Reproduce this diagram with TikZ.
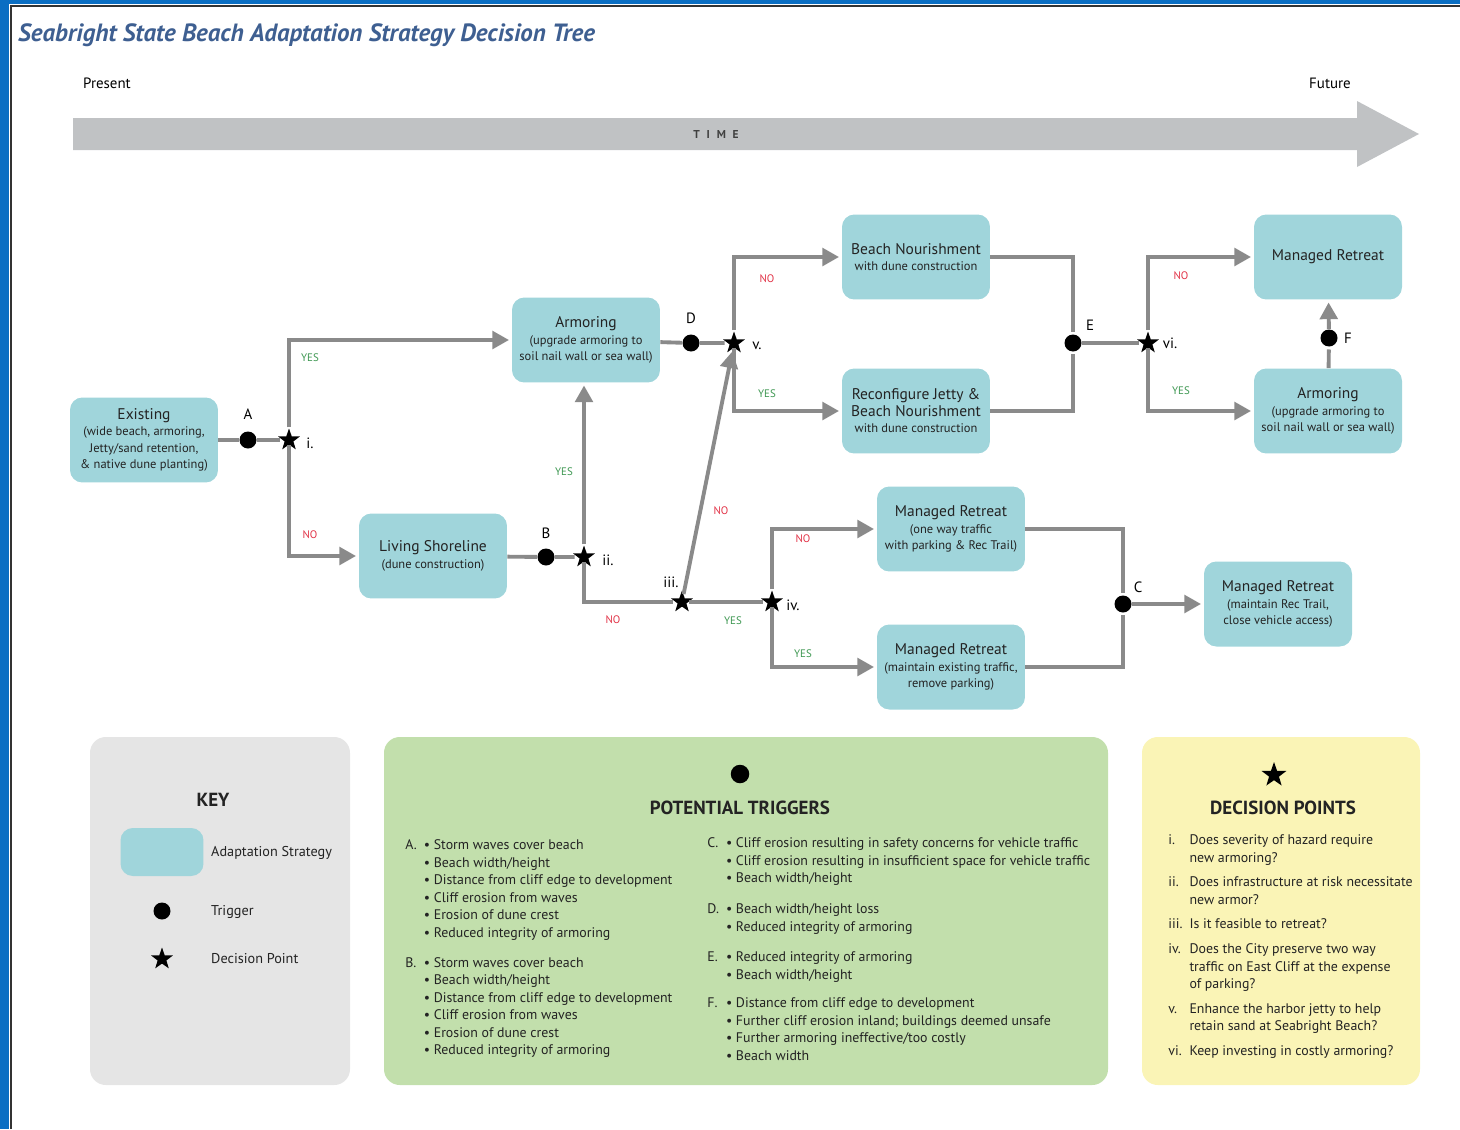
\documentclass[tikz,border=0pt]{standalone}
\usepackage{fontspec}
\setmainfont{PT Sans}
\usetikzlibrary{arrows.meta,shapes.geometric}

\definecolor{stratfill}{RGB}{160,213,219}
\definecolor{linegrey}{RGB}{138,138,138}
\definecolor{timegrey}{RGB}{192,194,196}
\definecolor{yesgreen}{RGB}{60,150,80}
\definecolor{nored}{RGB}{225,50,70}
\definecolor{titleblue}{RGB}{62,95,145}
\definecolor{frameblue}{RGB}{10,110,195}
\definecolor{keygrey}{RGB}{229,229,229}
\definecolor{trigreen}{RGB}{194,223,172}
\definecolor{decyellow}{RGB}{250,244,182}
\definecolor{textdark}{RGB}{35,35,35}

\newcommand\subsize{\fontsize{7.1}{9.4}\selectfont}
\newcommand\headsize{\fontsize{8.8}{9.4}\selectfont}
\newcommand\listsize{\fontsize{7.9}{10}\selectfont}

\tikzset{%
  >={Triangle[width=10pt,length=9.5pt]},
  % Specifications for style of nodes:
        strategy/.style = {rectangle, rounded corners=7pt, fill=stratfill,
                           minimum width=2.96cm, minimum height=1.7cm,
                           align=center, text=textdark, font=\subsize},
         trigger/.style = {circle, fill=black, minimum size=0.34cm,
                           inner sep=0pt},
        decision/.style = {star, star points=5, star point ratio=2.5,
                           fill=black, minimum size=0.46cm, inner sep=0pt},
          letter/.style = {font=\fontsize{8.5}{10}\selectfont, text=black},
             yes/.style = {font=\fontsize{6.2}{7}\selectfont, text=yesgreen},
              no/.style = {font=\fontsize{6.2}{7}\selectfont, text=nored},
            flow/.style = {draw=linegrey, line width=2.2pt, shorten >=1.5pt},
         heading/.style = {font=\fontsize{10.8}{12}\selectfont\bfseries,
                           text=textdark},
         keytext/.style = {anchor=west, font=\fontsize{8.1}{10}\selectfont,
                           text=textdark},
        listtext/.style = {anchor=north west, inner sep=0pt, text=textdark,
                           font=\listsize},
}

\begin{document}
\begin{tikzpicture}[x=0.02cm, y=-0.02cm]
  \useasboundingbox (0,0) rectangle (1460,1129);
  % frame
  \fill[frameblue] (0,0) rectangle (9,1129);
  \fill[frameblue] (0,0) rectangle (1460,4);
  \draw[black!80, line width=0.8pt] (11,1129) -- (11,6) -- (1460,6);

  % title and time line
  \node (title) [anchor=west, text=titleblue,
    font=\fontsize{14.2}{16}\selectfont\bfseries\itshape] at (12,35)
    {Seabright State Beach Adaptation Strategy Decision Tree};
  \fill[timegrey] (73,118) -- (1357,118) -- (1357,101) -- (1419,134)
    -- (1357,167) -- (1357,150) -- (73,150) -- cycle;
  \node (present) [font=\fontsize{8.5}{10}\selectfont] at (107,83) {Present};
  \node (future)  [font=\fontsize{8.5}{10}\selectfont] at (1330,83) {Future};
  \node (time) [text=black!75, font=\fontsize{6.5}{8}\selectfont\bfseries\addfontfeatures{LetterSpace=60}]
    at (716,135) {TIME};

  % Specification of strategy boxes
  \node (ex)   [strategy] at (144,440) {{\headsize Existing}\\(wide beach, armoring,\\Jetty/sand retention,\\\& native dune planting)};
  \node (arm)  [strategy] at (586,340) {{\headsize Armoring}\\(upgrade armoring to\\soil nail wall or sea wall)};
  \node (ls)   [strategy] at (433,556) {{\headsize Living Shoreline}\\(dune construction)};
  \node (bn)   [strategy] at (916,257) {{\headsize Beach Nourishment}\\with dune construction};
  \node (rj)   [strategy] at (916,411) {{\headsize Reconfigure Jetty \&}\\{\headsize Beach Nourishment}\\with dune construction};
  \node (mr1)  [strategy] at (951,529) {{\headsize Managed Retreat}\\(one way traffic\\with parking \& Rec Trail)};
  \node (mr2)  [strategy] at (951,667) {{\headsize Managed Retreat}\\(maintain existing traffic,\\remove parking)};
  \node (mr3)  [strategy] at (1278,604) {{\headsize Managed Retreat}\\(maintain Rec Trail,\\close vehicle access)};
  \node (mr4)  [strategy] at (1328,257) {{\headsize Managed Retreat}};
  \node (arm2) [strategy] at (1328,411) {{\headsize Armoring}\\(upgrade armoring to\\soil nail wall or sea wall)};

  % triggers and decision points
  \node (A)   [trigger]  at (248,440) {};
  \node (i)   [decision] at (289,440) {};
  \node (B)   [trigger]  at (546,557) {};
  \node (ii)  [decision] at (584,557) {};
  \node (iii) [decision] at (682,602) {};
  \node (iv)  [decision] at (772,602) {};
  \node (C)   [trigger]  at (1123,604) {};
  \node (D)   [trigger]  at (691,343) {};
  \node (v)   [decision] at (734,343) {};
  \node (E)   [trigger]  at (1073,343) {};
  \node (vi)  [decision] at (1148,343) {};
  \node (F)   [trigger]  at (1329,338) {};

  \node (lA)   [letter] at (248,414) {A};
  \node (lB)   [letter] at (546,533) {B};
  \node (lC)   [letter] at (1138,587) {C};
  \node (lD)   [letter] at (691,318) {D};
  \node (lE)   [letter] at (1090,325) {E};
  \node (lF)   [letter] at (1348,338) {F};
  \node (li)   [letter] at (310,443) {i.};
  \node (lii)  [letter] at (608,560) {ii.};
  \node (liii) [letter] at (671,582) {iii.};
  \node (liv)  [letter] at (793,605) {iv.};
  \node (lv)   [letter] at (757,346) {v.};
  \node (lvi)  [letter] at (1170,343) {vi.};

  % Specification of connectors between the nodes above
  \draw[flow] (ex) -- (A) -- (i);
  \draw[flow,->] (i) |- (arm);
  \draw[flow,->] (i) |- (ls);
  \draw[flow] (ls) -- (B) -- (ii);
  \draw[flow,->] (ii) -- (ii |- arm.south);
  \draw[flow] (ii) |- (iii);
  \draw[flow] (iii) -- (iv);
  \draw[flow,->] (iii) -- (v);
  \draw[flow,->] (iv) |- (mr1);
  \draw[flow,->] (iv) |- (mr2);
  \draw[flow] (mr1) -| (C);
  \draw[flow] (mr2) -| (C);
  \draw[flow,->] (C) -- (mr3);
  \draw[flow] (arm) -- (D) -- (v);
  \draw[flow,->] (v) |- (bn);
  \draw[flow,->] (v) |- (rj);
  \draw[flow] (bn) -| (E);
  \draw[flow] (rj) -| (E);
  \draw[flow] (E) -- (vi);
  \draw[flow,->] (vi) |- (mr4);
  \draw[flow,->] (vi) |- (arm2);
  \draw[flow] (arm2) -- (F);
  \draw[flow,->] (F) -- (mr4);

  % yes / no answers
  \node (yi)   [yes] at (310,358) {YES};
  \node (ni)   [no]  at (310,535) {NO};
  \node (yii)  [yes] at (564,472) {YES};
  \node (nii)  [no]  at (613,620) {NO};
  \node (niii) [no]  at (721,511) {NO};
  \node (yiii) [yes] at (733,621) {YES};
  \node (niv)  [no]  at (803,539) {NO};
  \node (yiv)  [yes] at (803,654) {YES};
  \node (nv)   [no]  at (767,279) {NO};
  \node (yv)   [yes] at (767,394) {YES};
  \node (nvi)  [no]  at (1181,276) {NO};
  \node (yvi)  [yes] at (1181,391) {YES};

  % key panel
  \fill[keygrey, rounded corners=9pt] (90,737) rectangle (350,1085);
  \node (keyhd) [heading] at (213,800) {KEY};
  \node (keybox) [strategy, minimum width=1.66cm, minimum height=0.96cm] at (162,852) {};
  \node (keyboxt) [keytext] at (205,853) {Adaptation Strategy};
  \node (keydot) [trigger] at (162,911) {};
  \node (keydott) [keytext] at (205,912) {Trigger};
  \node (keystar) [decision] at (162,959) {};
  \node (keystart) [keytext] at (205,959) {Decision Point};

  % potential triggers panel
  \fill[trigreen, rounded corners=9pt] (384,737) rectangle (1108,1085);
  \node (trigdot) [trigger, minimum size=0.37cm] at (740,774) {};
  \node (trighd) [heading] at (740,808) {POTENTIAL TRIGGERS};
  \node (trigleft) [listtext] at (405,837) {%
    \begin{tabular}{@{}l@{\hspace{4pt}}l@{}}
      A. & \textbullet\ Storm waves cover beach\\
         & \textbullet\ Beach width/height\\
         & \textbullet\ Distance from cliff edge to development\\
         & \textbullet\ Cliff erosion from waves\\
         & \textbullet\ Erosion of dune crest\\
         & \textbullet\ Reduced integrity of armoring\\[6.8pt]
      B. & \textbullet\ Storm waves cover beach\\
         & \textbullet\ Beach width/height\\
         & \textbullet\ Distance from cliff edge to development\\
         & \textbullet\ Cliff erosion from waves\\
         & \textbullet\ Erosion of dune crest\\
         & \textbullet\ Reduced integrity of armoring
    \end{tabular}};
  \node (trigright) [listtext] at (707,835) {%
    \begin{tabular}{@{}l@{\hspace{4pt}}l@{}}
      C. & \textbullet\ Cliff erosion resulting in safety concerns for vehicle traffic\\
         & \textbullet\ Cliff erosion resulting in insufficient space for vehicle traffic\\
         & \textbullet\ Beach width/height\\[7.5pt]
      D. & \textbullet\ Beach width/height loss\\
         & \textbullet\ Reduced integrity of armoring\\[7.5pt]
      E. & \textbullet\ Reduced integrity of armoring\\
         & \textbullet\ Beach width/height\\[6pt]
      F. & \textbullet\ Distance from cliff edge to development\\
         & \textbullet\ Further cliff erosion inland; buildings deemed unsafe\\
         & \textbullet\ Further armoring ineffective/too costly\\
         & \textbullet\ Beach width
    \end{tabular}};

  % decision points panel
  \fill[decyellow, rounded corners=9pt] (1142,737) rectangle (1420,1085);
  \node (decstar) [decision, minimum size=0.52cm] at (1274,775) {};
  \node (dechd) [heading] at (1283,808) {DECISION POINTS};
  \node (declist) [listtext] at (1168,832) {%
    \begin{tabular}{@{}l@{\hspace{4pt}}l@{}}
      i.   & Does severity of hazard require\\
           & new armoring?\\[4pt]
      ii.  & Does infrastructure at risk necessitate\\
           & new armor?\\[4pt]
      iii. & Is it feasible to retreat?\\[4pt]
      iv.  & Does the City preserve two way\\
           & traffic on East Cliff at the expense\\
           & of parking?\\[4pt]
      v.   & Enhance the harbor jetty to help\\
           & retain sand at Seabright Beach?\\[4pt]
      vi.  & Keep investing in costly armoring?
    \end{tabular}};
\end{tikzpicture}
\end{document}
